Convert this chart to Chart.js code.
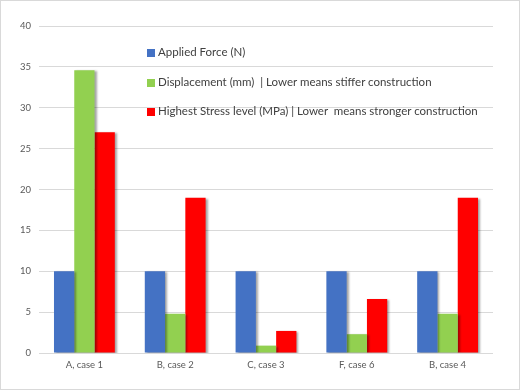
<!DOCTYPE html>
<html>
<head>
<meta charset="utf-8">
<script src="https://cdn.jsdelivr.net/npm/chart.js@4"></script>
<style>
  body { margin: 0; background: #fff; }
  #wrap { position: relative; width: 520px; height: 390px; }
  #legend { position: absolute; left: 147px; top: 45px; font-family: Lato, "Open Sans", sans-serif; font-size: 11.5px; color: #404040; }
  #legend div { height: 29.5px; white-space: pre; display: flex; align-items: flex-start; }
  #legend span.box { display: inline-block; width: 8px; height: 8px; margin: 4px 3px 0 0; }
</style>
</head>
<body>
<div id="wrap">
  <canvas id="chart" width="520" height="390"></canvas>
  <div id="legend"></div>
</div>
<script>
const categories = ['A, case 1', 'B, case 2', 'C, case 3', 'F, case 6', 'B, case 4'];
const seriesNames = [
    'Applied Force (N)',
    'Displacement (mm)  | Lower means stiffer construction',
    'Highest Stress level (MPa) | Lower  means stronger construction'
];
const appliedForce = [10, 10, 10, 10, 10];
const displacement = [34.6, 4.8, 0.9, 2.3, 4.8];
const stress = [27, 19, 2.7, 6.6, 19];
const colors = ['#4472c4', '#92d050', '#ff0000'];

// legend drawn as html so it can sit inside the plot area like the original
const legendEl = document.getElementById('legend');
seriesNames.forEach((name, i) => {
    legendEl.innerHTML += `<div><span class="box" style="background:${colors[i]}"></span>${name}</div>`;
});

const shadowPlugin = {
    id: 'shadow',
    beforeDraw(chart) {
        const ctx = chart.ctx;
        ctx.save();
        ctx.strokeStyle = '#d9d9d9';
        ctx.lineWidth = 1;
        ctx.strokeRect(0.5, 0.5, 519, 389);
        ctx.restore();
    },
    beforeDatasetsDraw(chart) {
        const ctx = chart.ctx;
        ctx.save();
        ctx.shadowColor = 'rgba(0,0,0,0.35)';
        ctx.shadowOffsetX = 2;
        ctx.shadowOffsetY = 1;
        ctx.shadowBlur = 2;
    },
    afterDatasetsDraw(chart) {
        chart.ctx.restore();
    }
};

const ctx = document.getElementById('chart').getContext('2d');
new Chart(ctx, {
    type: 'bar',
    data: {
        labels: categories,
        datasets: [
            { label: seriesNames[0], data: appliedForce, backgroundColor: colors[0] },
            { label: seriesNames[1], data: displacement, backgroundColor: colors[1] },
            { label: seriesNames[2], data: stress, backgroundColor: colors[2] }
        ]
    },
    options: {
        responsive: false,
        animation: false,
        devicePixelRatio: 1,
        layout: { padding: { top: 26, right: 27, left: 0, bottom: 0 } },
        datasets: {
            bar: { categoryPercentage: 0.67, barPercentage: 1.0 }
        },
        plugins: {
            legend: { display: false },
            tooltip: { enabled: false }
        },
        scales: {
            x: {
                grid: { display: false, drawTicks: false },
                border: { display: false },
                ticks: {
                    color: '#595959',
                    font: { family: 'Lato, "Open Sans", sans-serif', size: 9.5 },
                    padding: 6
                },
                afterFit(scale) { scale.height = 37; }
            },
            y: {
                min: 0,
                max: 40,
                ticks: {
                    stepSize: 5,
                    color: '#595959',
                    font: { family: 'Lato, "Open Sans", sans-serif', size: 9.5 },
                    padding: 8
                },
                grid: { color: '#d9d9d9', drawTicks: false },
                border: { display: false },
                afterFit(scale) { scale.width = 39; }
            }
        }
    },
    plugins: [shadowPlugin]
});
</script>
</body>
</html>
